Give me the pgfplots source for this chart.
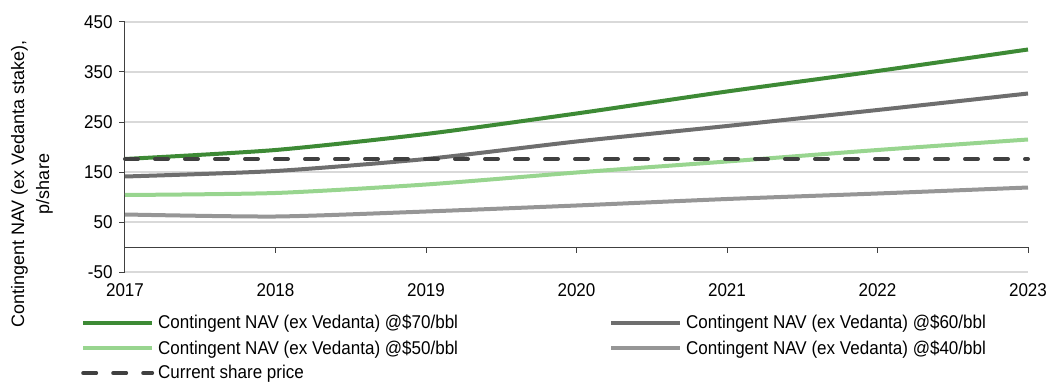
\documentclass[border=0pt]{standalone}
\usepackage{fontspec}
\setmainfont{Liberation Sans}
\newfontfamily\narrowsans{Liberation Sans}[FakeStretch=0.92]
\usepackage{pgfplots}
\pgfplotsset{compat=1.18}

\definecolor{navseventy}{HTML}{3D8A35}
\definecolor{navsixty}{HTML}{6E6E6E}
\definecolor{navfifty}{HTML}{98D58F}
\definecolor{navforty}{HTML}{969696}
\definecolor{priceline}{HTML}{404040}
\definecolor{gridgray}{HTML}{D9D9D9}
\definecolor{axisgray}{HTML}{404040}

\begin{document}
\begin{tikzpicture}
\useasboundingbox (-125pt,-111pt) rectangle (930pt,272pt);
\begin{axis}[
  scale only axis,
  width=903pt, height=250pt,
  xmin=2017, xmax=2023, ymin=-50, ymax=450,
  xtick={2017,2018,...,2023},
  ytick={-50,50,150,250,350,450},
  axis lines*=left,
  x axis line style={draw=none},
  y axis line style={draw=axisgray, line width=1pt},
  xtick style={draw=none},
  ytick style={draw=axisgray, line width=1pt},
  tick align=outside,
  major tick length=6pt,
  ymajorgrids,
  grid style={gridgray, line width=1.1pt},
  /pgf/number format/assume math mode=true,
  /pgf/number format/1000 sep={},
  tick label style={font=\narrowsans\fontsize{18.5}{21}\selectfont, text=black},
  yticklabel style={xshift=-3pt},
  xticklabel style={yshift=-2pt},
  clip=false,
  legend columns=2,
  legend cell align=left,
  legend image code/.code={\draw[#1] (0pt,0pt) -- (69pt,0pt);},
  legend style={
    at={(rel axis cs:0,0)}, anchor=north west,
    xshift=-44pt, yshift=-41pt,
    draw=none, fill=none, inner sep=0pt,
    font=\narrowsans\fontsize{18.5}{21}\selectfont,
    row sep=6pt,
    /tikz/every odd column/.append style={column sep=2pt},
    /tikz/every even column/.append style={column sep=149pt},
  },
]
% zero line with downward ticks
\draw[axisgray, line width=1pt] (axis cs:2017,0) -- (axis cs:2023,0);
\pgfplotsinvokeforeach{2018,2019,2020,2021,2022,2023}{
  \draw[axisgray, line width=1pt] (axis cs:#1,0) -- ++(0pt,-6pt);
}

\addplot[navseventy, line width=4pt, smooth, tension=0.4] coordinates {
  (2017,176) (2018,194) (2019,226) (2020,267) (2021,311) (2022,352) (2023,395)};
\addlegendentry{Contingent NAV (ex Vedanta) @\$70/bbl}
\addplot[navsixty, line width=4pt, smooth, tension=0.4] coordinates {
  (2017,141) (2018,152) (2019,176) (2020,211) (2021,242) (2022,274) (2023,307)};
\addlegendentry{Contingent NAV (ex Vedanta) @\$60/bbl}
\addplot[navfifty, line width=4pt, smooth, tension=0.4] coordinates {
  (2017,104) (2018,108) (2019,125) (2020,149) (2021,171) (2022,194) (2023,215)};
\addlegendentry{Contingent NAV (ex Vedanta) @\$50/bbl}
\addplot[navforty, line width=4pt, smooth, tension=0.4] coordinates {
  (2017,65) (2018,61) (2019,71) (2020,83) (2021,96) (2022,107) (2023,119)};
\addlegendentry{Contingent NAV (ex Vedanta) @\$40/bbl}
\addplot[priceline, line width=4pt, line cap=round, dash pattern=on 13pt off 17pt] coordinates {
  (2017,176) (2018,176) (2019,176) (2020,176) (2021,176) (2022,176) (2023,176)};
\addlegendentry{Current share price}
\end{axis}
\node[rotate=90, align=center, font=\fontsize{18}{25}\selectfont, text=black]
  at (-93pt,88pt) {Contingent NAV (ex Vedanta stake),\\p/share};
\end{tikzpicture}
\end{document}
